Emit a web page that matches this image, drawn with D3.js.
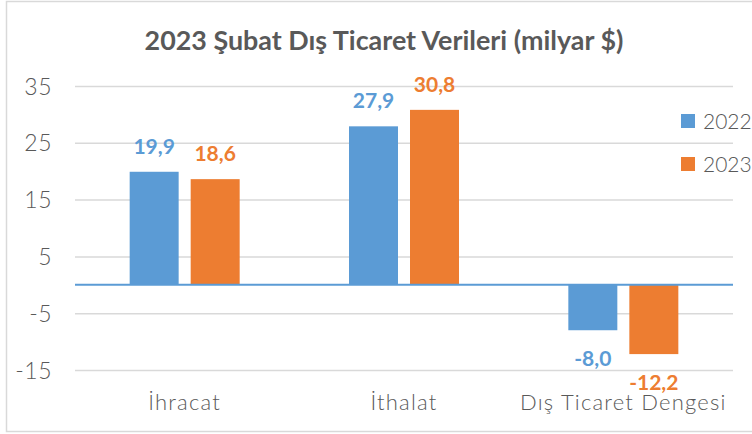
<!DOCTYPE html>
<html><head><meta charset="utf-8">
<script src="https://cdn.jsdelivr.net/npm/d3@7"></script>
<style>
html,body{margin:0;padding:0;background:#fff;}
svg{display:block;}
</style>
</head><body>
<svg id="c" width="752" height="434"></svg>
<script>
const title = "2023 Şubat Dış Ticaret Verileri (milyar $)";
const categories = ["İhracat", "İthalat", "Dış Ticaret Dengesi"];
const seriesNames = ["2022", "2023"];
const values2022 = [19.9, 27.9, -8.0];
const values2023 = [18.6, 30.8, -12.2];
const yTicks = [35, 25, 15, 5, -5, -15];
const colors = ["#5B9BD5", "#ED7D31"];

const seriesValues = [values2022, values2023];
const svg = d3.select("#c");
const font = "Lato, 'Open Sans', sans-serif";

// border
svg.append("rect").attr("x", 6.5).attr("y", 1.5).attr("width", 760).attr("height", 430)
  .attr("fill", "#fff").attr("stroke", "#d9d9d9").attr("stroke-width", 1.5);

const x0 = d3.scaleBand().domain(categories).range([75, 733]).paddingInner(0).paddingOuter(0);
const x1 = d3.scaleBand().domain(seriesNames).range([-55, 55]).paddingInner(0.197).paddingOuter(0);
const y = d3.scaleLinear().domain([-15, 35]).range([370, 86]);

// gridlines + tick labels via axis
const yAxis = d3.axisLeft(y).tickValues(yTicks).tickSize(-(733 - 75)).tickPadding(23)
  .tickFormat(d => d);
const ga = svg.append("g").attr("transform", "translate(75,0)").call(yAxis);
ga.select(".domain").remove();
ga.selectAll(".tick line").attr("stroke", "#d9d9d9").attr("stroke-width", 1.5);
ga.selectAll(".tick text").attr("fill", "#595959").attr("font-family", font)
  .attr("font-weight", 300).attr("font-size", 23).attr("letter-spacing", 0.5).attr("dy", "0.35em");

// bars
const groups = svg.append("g").selectAll("g").data(categories).join("g")
  .attr("transform", d => `translate(${x0(d) + x0.bandwidth() / 2},0)`);
seriesNames.forEach((s, si) => {
  groups.append("rect")
    .attr("x", x1(s))
    .attr("width", x1.bandwidth())
    .attr("y", (d, i) => y(Math.max(0, seriesValues[si][i])))
    .attr("height", (d, i) => Math.abs(y(seriesValues[si][i]) - y(0)))
    .attr("fill", colors[si]);
});

// zero line
svg.append("line").attr("x1", 75).attr("x2", 733).attr("y1", y(0)).attr("y2", y(0))
  .attr("stroke", "#5B9BD5").attr("stroke-width", 2);

// category labels
svg.append("g").selectAll("text").data(categories).join("text")
  .attr("x", d => x0(d) + x0.bandwidth() / 2)
  .attr("y", 410)
  .attr("text-anchor", "middle")
  .attr("font-family", font).attr("font-weight", 300).attr("font-size", 22)
  .attr("letter-spacing", 1.2)
  .attr("fill", "#595959")
  .text(d => d);

// value labels
const fmt = v => v.toFixed(1).replace(".", ",");
seriesNames.forEach((s, si) => {
  groups.append("text")
    .attr("x", x1(s) + x1.bandwidth() / 2)
    .attr("y", (d, i) => {
      const v = seriesValues[si][i];
      return v >= 0 ? y(v) - 18 : y(v) + 36;
    })
    .attr("text-anchor", "middle")
    .attr("font-family", font).attr("font-weight", "bold").attr("font-size", 21)
    .attr("fill", colors[si])
    .text((d, i) => fmt(seriesValues[si][i]));
});

// legend
const lg = svg.append("g").selectAll("g").data(seriesNames).join("g")
  .attr("transform", (d, i) => `translate(681,${114 + i * 43})`);
lg.append("rect").attr("width", 14).attr("height", 14).attr("fill", (d, i) => colors[i]);
lg.append("text").attr("x", 22).attr("y", 14.5)
  .attr("font-family", font).attr("font-weight", 300).attr("font-size", 21)
  .attr("fill", "#595959").text(d => d);

// title
const t = svg.append("text").attr("x", 384).attr("y", 50).attr("text-anchor", "middle")
  .attr("font-family", font).attr("font-weight", "bold").attr("font-size", 20)
  .attr("fill", "#595959").text(title);
const w = t.node().getComputedTextLength();
t.attr("font-size", 20 * 479 / w);
</script>
</body></html>
